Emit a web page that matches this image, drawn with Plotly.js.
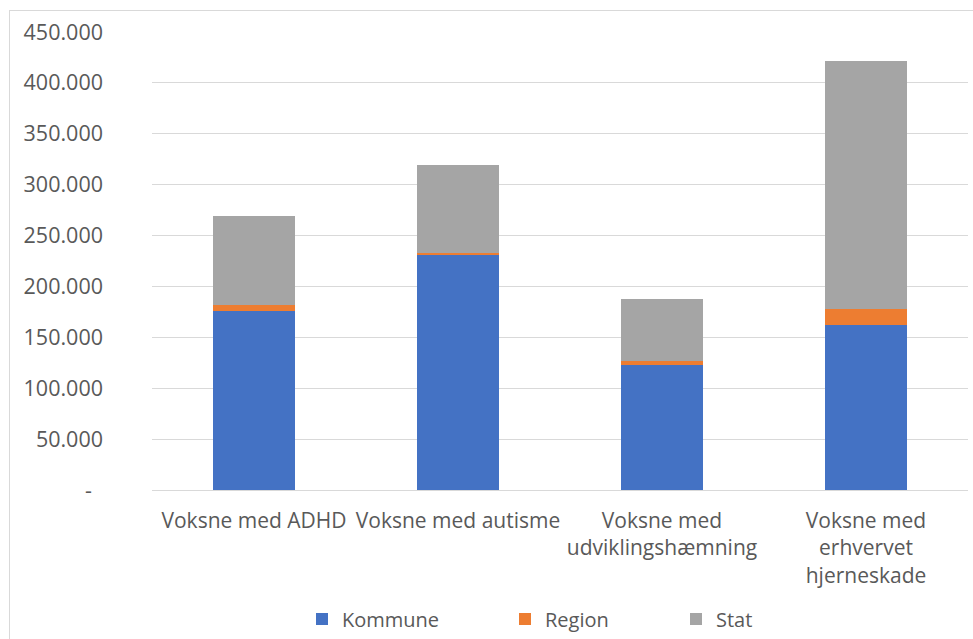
<!DOCTYPE html>
<html>
<head>
<meta charset="utf-8">
<script src="https://cdn.plot.ly/plotly-3.0.1.min.js"></script>
<style>
  html, body { margin: 0; padding: 0; background: #fff; }
  #wrap { position: relative; width: 973px; height: 639px; }
  #chart { position: absolute; left: 0; top: 0; width: 973px; height: 639px; }
  #frame { position: absolute; left: 9px; top: 10px; width: 970px; height: 640px;
           border-left: 1px solid #d9d9d9; border-top: 1px solid #d9d9d9; pointer-events: none; }
</style>
</head>
<body>
<div id="wrap">
  <div id="chart"></div>
  <div id="frame"></div>
</div>
<script>
// Categories (x-axis)
const categories = [
  "Voksne med ADHD",
  "Voksne med autisme",
  "Voksne med<br>udviklingshæmning",
  "Voksne med<br>erhvervet<br>hjerneskade"
];

// Series values
const kommune = [175800, 230500, 122800, 162100];
const region  = [5900, 2300, 3900, 15700];
const stat    = [87700, 86700, 60600, 243600];

// Y-axis tick values and labels
const yTickVals = [0, 50000, 100000, 150000, 200000, 250000, 300000, 350000, 400000, 450000];
const yTickText = ["-\u00a0\u00a0", "50.000", "100.000", "150.000", "200.000", "250.000", "300.000", "350.000", "400.000", "450.000"];

const seriesNames = ["Kommune", "Region", "Stat"];
const seriesColors = ["#4472C4", "#ED7D31", "#A5A5A5"];
const seriesData = [kommune, region, stat];

const FONT = "'Open Sans', 'Liberation Sans', sans-serif";
const TXT = "#595959";

const traces = seriesData.map((vals, i) => ({
  type: "bar",
  name: seriesNames[i],
  x: categories,
  y: vals,
  marker: { color: seriesColors[i], line: { width: 0 } },
  width: 0.4,
  legend: i === 0 ? "legend" : ("legend" + (i + 1)),
  hoverinfo: "none"
}));

const legendBase = {
  orientation: "h",
  xref: "container",
  yref: "container",
  xanchor: "left",
  yanchor: "middle",
  y: (639 - 619) / 639,
  bgcolor: "rgba(0,0,0,0)",
  borderwidth: 0,
  font: { family: FONT, size: 20, color: TXT },
  itemwidth: 30
};

const layout = {
  width: 973,
  height: 639,
  margin: { l: 152, r: 5, t: 32, b: 149, autoexpand: false },
  paper_bgcolor: "rgba(0,0,0,0)",
  plot_bgcolor: "#ffffff",
  barmode: "stack",
  font: { family: FONT, size: 21, color: TXT },
  xaxis: {
    type: "category",
    showgrid: false,
    ticks: "",
    showline: false,
    automargin: false,
    tickfont: { family: FONT, size: 21, color: TXT },
    ticklabelstandoff: 16
  },
  yaxis: {
    range: [0, 450000],
    tickvals: yTickVals,
    ticktext: yTickText,
    showgrid: true,
    gridcolor: "#d9d9d9",
    gridwidth: 1,
    zeroline: true,
    zerolinecolor: "#d9d9d9",
    zerolinewidth: 1,
    showline: false,
    ticks: "",
    automargin: false,
    tickfont: { family: FONT, size: 21.5, color: TXT },
    ticklabelstandoff: 48
  },
  legend:  Object.assign({}, legendBase, { x: (302) / 973 }),
  legend2: Object.assign({}, legendBase, { x: (505) / 973 }),
  legend3: Object.assign({}, legendBase, { x: (676) / 973 }),
  showlegend: true
};

Plotly.newPlot("chart", traces, layout, { displayModeBar: false, staticPlot: true });
</script>
</body>
</html>
